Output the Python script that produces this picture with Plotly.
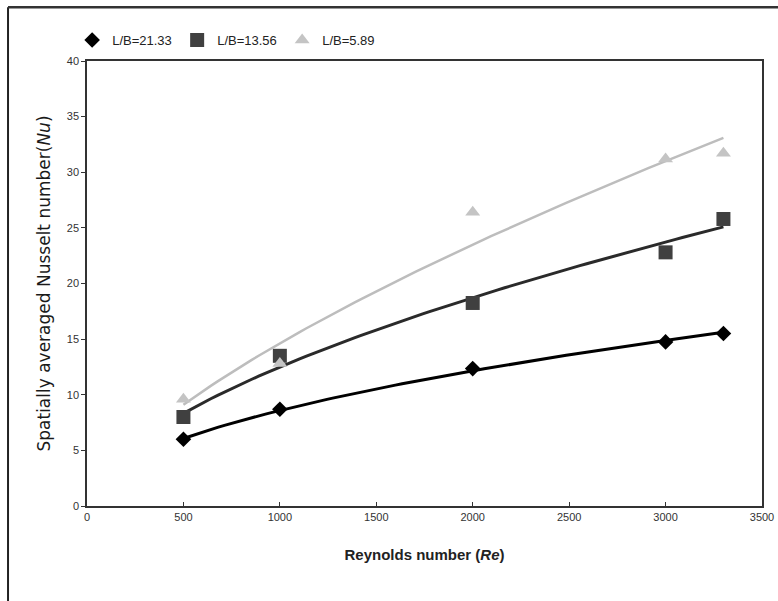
import numpy as np
import plotly.graph_objects as go

re_values = [500, 1000, 2000, 3000, 3300]
nu_lb_21_33 = [6.0, 8.7, 12.35, 14.75, 15.5]
nu_lb_13_56 = [8.0, 13.5, 18.25, 22.8, 25.8]
nu_lb_5_89 = [9.6, 12.8, 26.4, 31.2, 31.7]
series_names = ["L/B=21.33", "L/B=13.56", "L/B=5.89"]
x_ticks = [0, 500, 1000, 1500, 2000, 2500, 3000, 3500]
y_ticks = [0, 5, 10, 15, 20, 25, 30, 35, 40]

FONT = "Liberation Sans, Arial, sans-serif"


def power_fit(x, y):
    b, ln_a = np.polyfit(np.log(x), np.log(y), 1)
    xs = np.linspace(min(x), max(x), 80)
    return xs, np.exp(ln_a) * xs ** b


styles = [
    dict(symbol="diamond", size=12, mcolor="#000000", lcolor="#000000", lw=3),
    dict(symbol="square", size=14, mcolor="#404040", lcolor="#2a2a2a", lw=3),
    dict(symbol="triangle-up", size=13, mcolor="#c4c4c4", lcolor="#bdbdbd", lw=2.5),
]
data = [nu_lb_21_33, nu_lb_13_56, nu_lb_5_89]

fig = go.Figure()
for name, y, st in zip(series_names, data, styles):
    xs, ys = power_fit(re_values, y)
    fig.add_trace(go.Scatter(x=xs, y=ys, mode="lines",
                             line=dict(color=st["lcolor"], width=st["lw"]),
                             showlegend=False, hoverinfo="skip"))
for name, y, st in zip(series_names, data, styles):
    fig.add_trace(go.Scatter(x=re_values, y=y, mode="markers", name=name,
                             marker=dict(symbol=st["symbol"], size=st["size"],
                                         color=st["mcolor"], line=dict(width=0))))

fig.update_layout(
    width=778, height=601,
    margin=dict(l=87, r=16, t=61, b=95, autoexpand=False),
    paper_bgcolor="white", plot_bgcolor="white",
    font=dict(family=FONT, color="#222222"),
    legend=dict(orientation="h", x=-0.022, y=1.047, xanchor="left", yanchor="middle",
                font=dict(size=13, color="#222222"), entrywidth=60,
                traceorder="normal", bgcolor="rgba(0,0,0,0)"),
    xaxis=dict(range=[0, 3500], tickvals=x_ticks, ticks="inside", ticklen=4,
               tickcolor="#333333", tickfont=dict(size=11, color="#333333"),
               showgrid=False, zeroline=False, showline=True, linecolor="#333333",
               linewidth=1.5, mirror=True, automargin=False,
               title=dict(text="<b>Reynolds number (<i>Re</i>)</b>", font=dict(size=15, color="#222222"),
                          standoff=28)),
    yaxis=dict(range=[0, 40], tickvals=y_ticks, ticks="outside", ticklen=4,
               tickcolor="#333333", tickfont=dict(size=11, color="#333333"),
               showgrid=False, zeroline=False, showline=True, linecolor="#333333",
               linewidth=1.5, mirror=True, automargin=False,
               title=dict(text="Spatially averaged Nusselt number(<i>Nu</i>)",
                          font=dict(family="DejaVu Sans, sans-serif", size=17, color="#1a1a1a"),
                          standoff=12)),
    shapes=[
        dict(type="line", xref="paper", yref="paper", x0=-0.117, x1=-0.117, y0=-0.25, y1=1.121,
             line=dict(color="#222222", width=2)),
        dict(type="line", xref="paper", yref="paper", x0=-0.117, x1=1.05, y0=1.121, y1=1.121,
             line=dict(color="#333333", width=2.5)),
    ],
)

fig.write_html("out.html", config={"displayModeBar": False},
               post_script="document.body.style.margin='0';")
